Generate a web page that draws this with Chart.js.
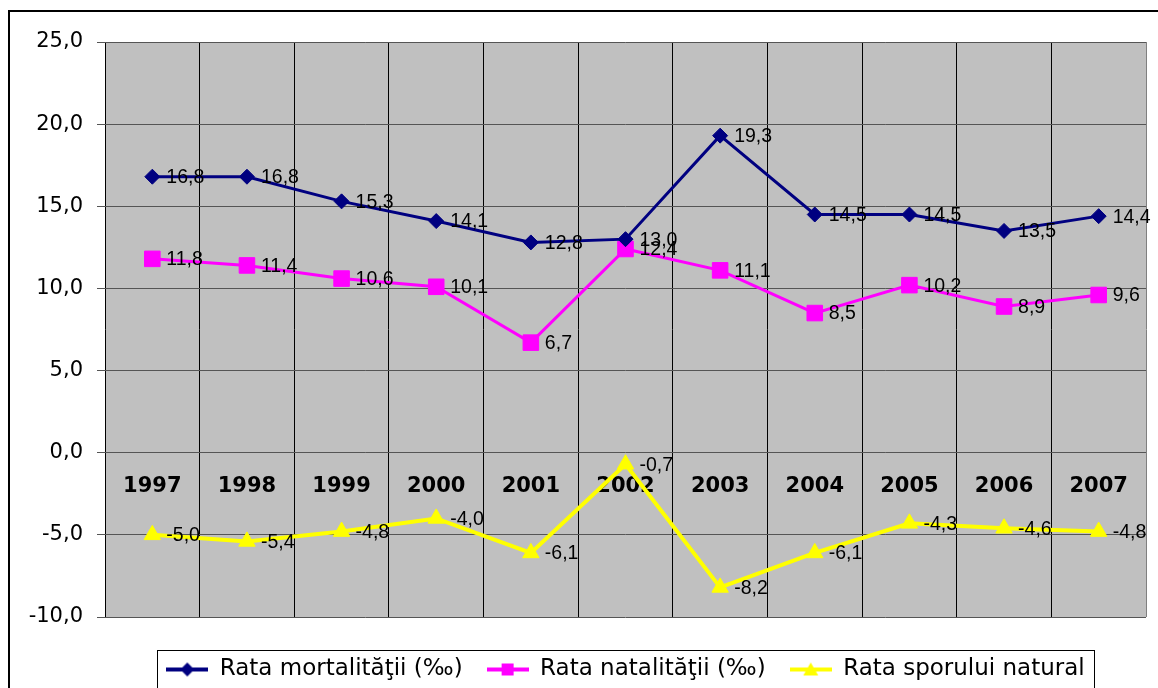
<!DOCTYPE html>
<html>
<head>
<meta charset="utf-8">
<script src="https://cdn.jsdelivr.net/npm/chart.js@4/dist/chart.umd.min.js"></script>
<style>
  html, body { margin: 0; padding: 0; background: #ffffff; overflow: hidden; }
  canvas { display: block; }
</style>
</head>
<body>
<canvas id="c" width="1158" height="688"></canvas>
<script>
// ---- data ----
const years = ['1997','1998','1999','2000','2001','2002','2003','2004','2005','2006','2007'];
const mortalitate = [16.8, 16.8, 15.3, 14.1, 12.8, 13.0, 19.3, 14.5, 14.5, 13.5, 14.4];
const natalitate  = [11.8, 11.4, 10.6, 10.1, 6.7, 12.4, 11.1, 8.5, 10.2, 8.9, 9.6];
const sporNatural = [-5.0, -5.4, -4.8, -4.0, -6.1, -0.7, -8.2, -6.1, -4.3, -4.6, -4.8];
const seriesNames = ['Rata mortalităţii (‰)', 'Rata natalităţii (‰)', 'Rata sporului natural'];
const yTickValues = [-10, -5, 0, 5, 10, 15, 20, 25];
const yTickLabels = ['-10,0', '-5,0', '0,0', '5,0', '10,0', '15,0', '20,0', '25,0'];

const colors = ['#000080', '#FF00FF', '#FFFF00'];
const styles = ['rectRot', 'rect', 'triangle'];

function makeIcon(color, style) {
  const cv = document.createElement('canvas');
  cv.width = 42; cv.height = 18;
  const g = cv.getContext('2d');
  g.strokeStyle = color; g.fillStyle = color; g.lineWidth = 4;
  g.beginPath(); g.moveTo(0, 9); g.lineTo(42, 9); g.stroke();
  g.beginPath();
  if (style === 'rectRot') {
    g.moveTo(21, 2); g.lineTo(28, 9); g.lineTo(21, 16); g.lineTo(14, 9); g.closePath();
  } else if (style === 'rect') {
    g.rect(15, 3, 12, 12);
  } else {
    g.moveTo(21, 2); g.lineTo(28.5, 15); g.lineTo(13.5, 15); g.closePath();
  }
  g.fill();
  return cv;
}
const legendIcons = colors.map((c, i) => makeIcon(c, styles[i]));

const bgPlugin = {
  id: 'bg',
  beforeDraw(chart) {
    const { ctx, chartArea: a } = chart;
    ctx.save();
    ctx.fillStyle = '#ffffff';
    ctx.fillRect(0, 0, chart.width, chart.height);
    ctx.fillStyle = '#C0C0C0';
    ctx.fillRect(a.left, a.top, a.right - a.left, a.bottom - a.top);
    ctx.restore();
  },
  afterDraw(chart) {
    const ctx = chart.ctx;
    ctx.save();
    // outer frame
    ctx.strokeStyle = '#000';
    ctx.lineWidth = 2;
    ctx.strokeRect(9, 11, 1300, 800);
    // legend box
    const hb = chart.legend.legendHitBoxes;
    if (hb && hb.length) {
      const l = hb[0].left - 9;
      const r = hb[hb.length - 1].left + hb[hb.length - 1].width + 10;
      const t = hb[0].top - 8;
      ctx.lineWidth = 1;
      ctx.strokeStyle = '#000';
      ctx.strokeRect(Math.round(l) + 0.5, Math.round(t) + 0.5, Math.round(r - l), 200);
    }
    ctx.restore();
  }
};

const labelPlugin = {
  id: 'vlabels',
  afterDatasetsDraw(chart) {
    const ctx = chart.ctx;
    ctx.save();
    ctx.font = '19.5px "Liberation Sans", Arial, sans-serif';
    ctx.fillStyle = '#000';
    ctx.textAlign = 'left';
    ctx.textBaseline = 'middle';
    chart.data.datasets.forEach((ds, di) => {
      const meta = chart.getDatasetMeta(di);
      meta.data.forEach((pt, i) => {
        const txt = ds.data[i].toFixed(1).replace('.', ',');
        ctx.fillText(txt, pt.x + 14, pt.y + 1);
      });
    });
    ctx.restore();
  }
};

const seriesData = [mortalitate, natalitate, sporNatural];
const datasets = seriesData.map((d, i) => ({
  label: seriesNames[i],
  data: d,
  borderColor: colors[i],
  backgroundColor: colors[i],
  pointBackgroundColor: colors[i],
  pointBorderColor: colors[i],
  pointStyle: styles[i],
  pointRadius: [7.5, 11, 9.5][i],
  pointHoverRadius: [7.5, 11, 9.5][i],
  pointBorderWidth: 1,
  borderWidth: [3, 3, 4][i],
  tension: 0,
  fill: false,
  clip: false
}));

function zeroPad(s) { s.paddingLeft = 0; s.paddingRight = 0; s.paddingTop = 0; s.paddingBottom = 0; }

new Chart(document.getElementById('c'), {
  type: 'line',
  data: { labels: years, datasets },
  options: {
    responsive: false,
    animation: false,
    events: [],
    layout: { padding: { top: 42, left: 0, right: 10, bottom: -3 } },
    scales: {
      x: {
        type: 'category',
        position: { y: 0 },
        offset: true,
        grid: {
          display: true,
          offset: true,
          drawTicks: false,
          tickLength: 0,
          lineWidth: 1,
          color: (c) => (c.index === undefined ? '#808080' : '#000000')
        },
        border: { display: false },
        ticks: {
          color: '#000',
          padding: 21,
          maxRotation: 0,
          autoSkip: false,
          font: { family: '"DejaVu Sans", sans-serif', size: 21, weight: 'bold' }
        },
        afterFit: zeroPad
      },
      x2: {
        type: 'linear',
        position: 'bottom',
        display: true,
        grid: { display: false, drawTicks: false },
        border: { display: false },
        ticks: { display: false },
        afterFit(s) { zeroPad(s); s.height = 17; }
      },
      y: {
        type: 'linear',
        position: 'left',
        min: -10,
        max: 25,
        afterBuildTicks(s) { s.ticks = yTickValues.map(v => ({ value: v })); },
        grid: {
          color: '#555555',
          lineWidth: 1,
          drawTicks: true,
          tickLength: 8
        },
        border: { display: false },
        ticks: {
          color: '#000',
          padding: 14,
          font: { family: '"DejaVu Sans", sans-serif', size: 21 },
          callback: (v) => {
            const k = yTickValues.indexOf(v);
            return k >= 0 ? yTickLabels[k] : '';
          }
        },
        afterFit(s) { s.width = 105; }
      }
    },
    plugins: {
      tooltip: { enabled: false },
      legend: {
        display: true,
        position: 'bottom',
        fullSize: false,
        labels: {
          usePointStyle: true,
          pointStyleWidth: 42,
          padding: 24,
          color: '#000',
          font: { family: '"DejaVu Sans", sans-serif', size: 23 },
          generateLabels: (chart) => chart.data.datasets.map((ds, i) => ({
            text: ds.label,
            fillStyle: ds.borderColor,
            strokeStyle: ds.borderColor,
            lineWidth: 0,
            pointStyle: legendIcons[i],
            hidden: false,
            datasetIndex: i,
            fontColor: '#000'
          }))
        }
      }
    }
  },
  plugins: [bgPlugin, labelPlugin]
});
</script>
</body>
</html>
